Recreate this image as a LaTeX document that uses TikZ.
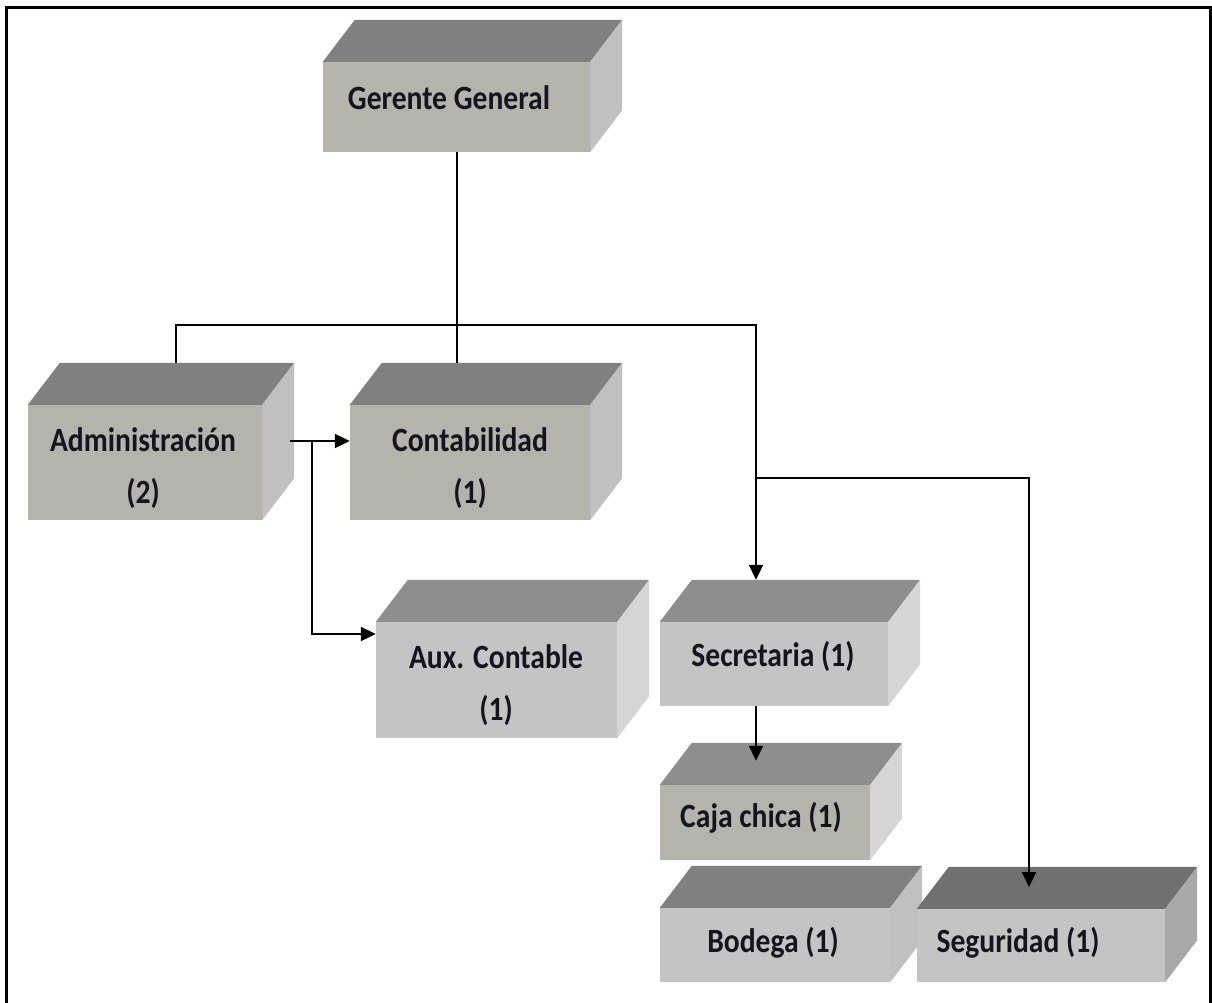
\documentclass[tikz,border=0pt]{standalone}
\usepackage{fontspec}
\setmainfont{Carlito}[FakeStretch=0.87]
\usetikzlibrary{arrows.meta,calc}
\definecolor{frontA}{HTML}{B4B4AC}
\definecolor{frontB}{HTML}{C4C4C4}
\definecolor{topA}{HTML}{808080}
\definecolor{topB}{HTML}{8E8E8E}
\definecolor{topC}{HTML}{707070}
\definecolor{sideA}{HTML}{C0C0C0}
\definecolor{sideB}{HTML}{D6D6D6}
\definecolor{sideC}{HTML}{A8A8A8}
\definecolor{txt}{HTML}{14141E}
\tikzset{
  face/.style={rectangle, inner sep=0pt, draw=none},
  lbl/.style={font=\fontsize{34}{52}\selectfont\bfseries, text=txt, align=center, inner sep=0pt},
  conn/.style={line width=2pt, draw=black},
  arr/.style={-{Triangle[length=15pt,width=14pt]}},
}
% name, x1, y1, x2, y2, front, top, side
\newcommand\solidbox[8]{%
  \node[face, fill=#6, minimum width={#4-#2}, minimum height={#5-#3}] (#1) at ({(#2+#4)/2},{(#3+#5)/2}) {};
  \fill[#7] (#1.north west) -- ++(32,-42) -- ([shift={(32,-42)}]#1.north east) -- (#1.north east) -- cycle;
  \fill[#8] (#1.north east) -- ++(32,-42) -- ([shift={(32,-42)}]#1.south east) -- (#1.south east) -- cycle;
}
\begin{document}
\begin{tikzpicture}[x=1pt,y=-1pt]
\useasboundingbox (0,0) rectangle (1212,1003);
\draw[line width=2.5pt] (6.5,1003) -- (6.5,7.5) -- (1210.5,7.5) -- (1210.5,1003);

\solidbox{gg}{323}{62}{590}{152}{frontA}{topA}{sideA}
\solidbox{adm}{28}{405}{262}{520}{frontA}{topA}{sideA}
\solidbox{con}{350}{405}{590}{520}{frontA}{topA}{sideA}
\solidbox{aux}{376}{622}{617}{738}{frontB}{topB}{sideB}
\solidbox{sec}{660}{622}{888}{706}{frontB}{topB}{sideB}
\solidbox{caja}{660}{785}{870}{860}{frontA}{topB}{sideB}
\solidbox{bod}{660}{908}{890}{982}{frontB}{topA}{sideA}
\solidbox{seg}{917}{909}{1165}{982}{frontB}{topC}{sideC}

\node[lbl] (gg-t) at (449,98) {Gerente General};
\node[lbl] (adm-t) at (143,468) {Administración\\(2)};
\node[lbl] (con-t) at (470,468) {Contabilidad\\(1)};
\node[lbl] (aux-t) at (496,685) {Aux. Contable\\(1)};
\node[lbl] (sec-t) at (773,656) {Secretaria (1)};
\node[lbl] (caja-t) at (761,818) {Caja chica (1)};
\node[lbl] (bod-t) at (773,943) {Bodega (1)};
\node[lbl] (seg-t) at (1018,943) {Seguridad (1)};

\coordinate (busL) at (176,325);
\coordinate (busR) at (756,325);
\coordinate (jn) at (756,478);
\coordinate (segin) at (1029,887);
\coordinate (admout) at (290,441);
\coordinate (brk) at (312,441);

\draw[conn] (gg.south) -- (gg.south |- busL);
\draw[conn] ([shift={(0,-42)}]con.north -| gg.south) -- (gg.south |- busL);
\draw[conn,arr] ([shift={(0,-42)}]adm.north -| busL) -- (busL) -- (busR) -- ([shift={(0,-42)}]sec.north -| busR);
\draw[conn,arr] (jn) -| (segin);
\draw[conn,arr] (admout) -- (con.west |- admout);
\draw[conn,arr] (brk) |- ($(aux.west)+(0,-46)$);
\draw[conn,arr] (sec.south -| busR) -- ($(caja.north -| busR)+(0,-24)$);
\end{tikzpicture}
\end{document}
